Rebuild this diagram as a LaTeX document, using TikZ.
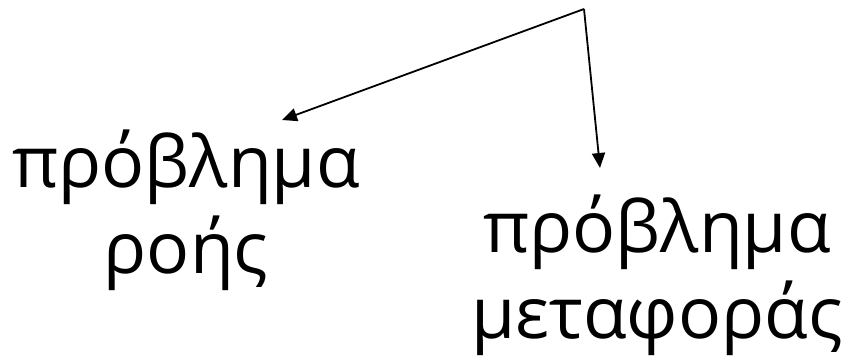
\documentclass[tikz,border=0pt]{standalone}
\usepackage{fontspec}
\setmainfont{Open Sans}
\usetikzlibrary{arrows.meta}

\tikzset{
  problabel/.style={align=center, inner sep=0pt, anchor=base,
    font=\fontsize{71.5bp}{86bp}\selectfont},
  tiparrow/.style={line width=1.8bp, -{Triangle[length=15bp,width=13bp]}}
}

\begin{document}
\begin{tikzpicture}[x=1bp, y=-1bp]
        % Canvas
        \useasboundingbox (0,0) rectangle (841,356);
        
        % Labels (base = last line)
        \node[problabel] (flow) at (186,273) {πρόβλημα\\ροής};
        \node[problabel] (transport) at (657,338) {πρόβλημα\\μεταφοράς};
        
        % Arrows
        \coordinate (top) at (584,9);
        \coordinate (flowtip) at (282,120);
        \coordinate (transporttip) at (600,168);
        \draw[tiparrow] (top) -- (flowtip);
        \draw[tiparrow] (top) -- (transporttip);
    \end{tikzpicture}
\end{document}
